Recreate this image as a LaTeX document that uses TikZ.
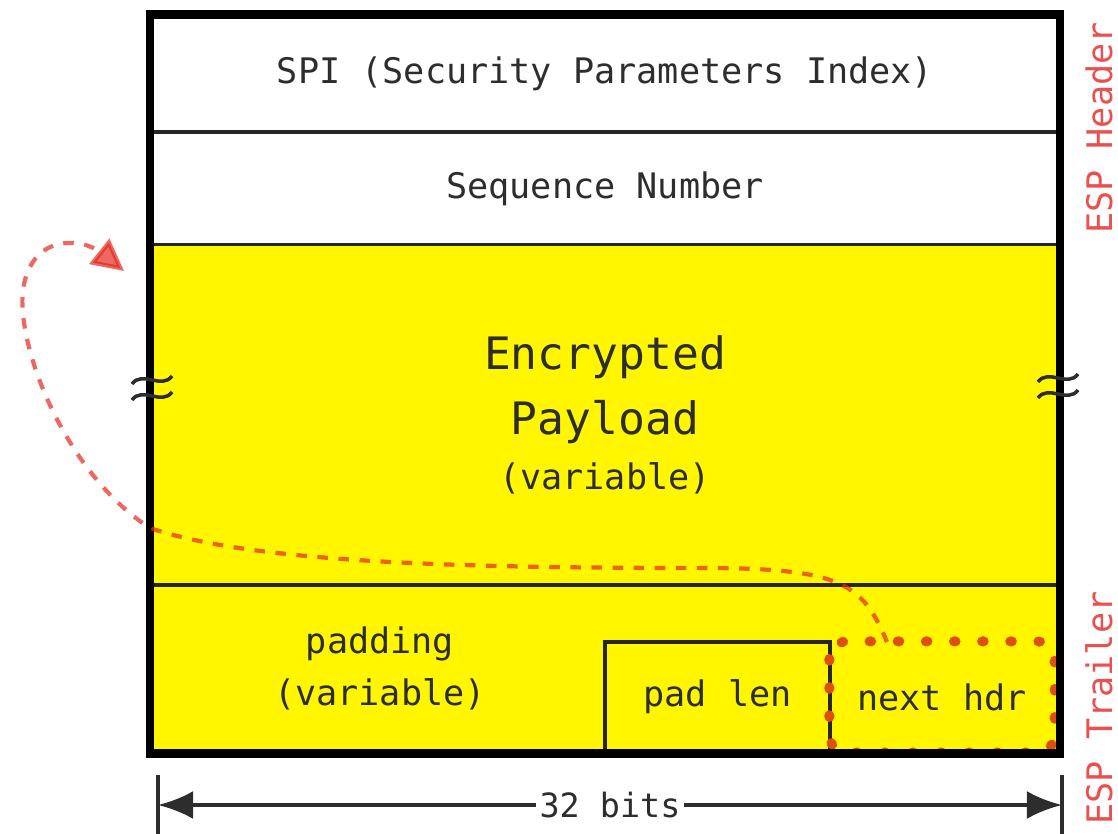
\documentclass[tikz,border=0pt]{standalone}
\usepackage{fontspec}
\setmonofont{DejaVu Sans Mono}
\usetikzlibrary{arrows.meta}
\definecolor{espyellow}{RGB}{255,246,0}
\definecolor{espred}{RGB}{228,40,30}
\definecolor{esporange}{RGB}{222,80,10}
\definecolor{esptext}{RGB}{45,45,45}
\definecolor{esplabel}{RGB}{235,80,80}
\begin{document}
\begin{tikzpicture}[x=0.01cm, y=-0.01cm,
    field/.style={draw=black!85, line width=0.9pt, inner sep=0pt, text=esptext,
      font=\ttfamily\fontsize{10}{14.8}\selectfont, align=center},
    loopline/.style={espred, opacity=0.7, line width=1.2pt, dash pattern=on 3pt off 3pt},
    hdrmark/.style={esporange, line width=2.8pt, line cap=round, dash pattern=on 0.5pt off 7.5pt},
    breakmark/.style={esptext, line width=1pt},
    sidelabel/.style={rotate=90, text=esplabel, inner sep=0pt, font=\ttfamily\fontsize{10}{12}\selectfont}]
  \useasboundingbox (0,0) rectangle (1118,834);

  \node[field, fill=white, minimum width=9.06cm, minimum height=1.16cm] (spi) at (605,74) {SPI (Security Parameters Index)};
  \node[field, fill=white, minimum width=9.06cm, minimum height=1.13cm] (seq) at (605,188.5) {Sequence Number};
  \node[field, fill=espyellow, minimum width=9.06cm, minimum height=3.40cm,
    font=\ttfamily\fontsize{12.7}{18.5}\selectfont] (payload) at (605,415)
    {Encrypted\\Payload\\[-3pt]{\fontsize{10}{12}\selectfont (variable)}};
  \node[field, fill=espyellow, minimum width=9.06cm, minimum height=1.67cm] (trailer) at (605,668.5) {};
  \node[field, draw=none] (padding) at (380,668) {padding\\(variable)};
  \node[field, minimum width=2.25cm, minimum height=1.10cm] (padlen) at (717.5,697) {pad len};
  \node[field, draw=none, minimum width=2.22cm, minimum height=1.08cm] (nexthdr) at (942,697) {next hdr};
  \draw[hdrmark, rounded corners=5pt] (nexthdr.north west) rectangle (nexthdr.south east);

  % outer frame
  \draw[line width=2.4pt] (spi.north west) rectangle (trailer.south east);

  % break marks
  \foreach \bx/\by in {152/380, 1058/378} {
    \draw[breakmark] (\bx-20,\by+4) .. controls (\bx-10,\by-10) and (\bx+10,\by+10) .. (\bx+20,\by-4);
    \draw[breakmark] (\bx-20,\by+20) .. controls (\bx-10,\by+6) and (\bx+10,\by+26) .. (\bx+20,\by+12);
  }

  % next header points back to the payload
  \coordinate (loopstart) at (887,642);
  \coordinate (looptip) at (124,271);
  \draw[loopline, -{Triangle[length=9pt,width=9pt]}] (loopstart) .. controls (862,582) and (840,568) .. (700,568)
    .. controls (450,568) and (250,562) .. (150,528)
    .. controls (60,470) and (10,330) .. (25,280)
    .. controls (38,232) and (85,240) .. (looptip);

  % width
  \coordinate (leftend) at (158,805);
  \coordinate (rightend) at (1062,805);
  \draw[esptext, line width=1pt] (158,775) -- (158,834) (1062,775) -- (1062,834);
  \draw[esptext, line width=1.2pt, {Latex[length=10pt,width=8pt]}-{Latex[length=10pt,width=8pt]}] (leftend) -- (rightend)
    node[midway, fill=white, inner sep=1pt, font=\ttfamily\fontsize{9.5}{11}\selectfont] (bits) {32 bits};

  % side labels
  \node[sidelabel] (hdrlabel) at (1099,128) {ESP Header};
  \node[sidelabel] (trllabel) at (1099,708) {ESP Trailer};
\end{tikzpicture}
\end{document}
